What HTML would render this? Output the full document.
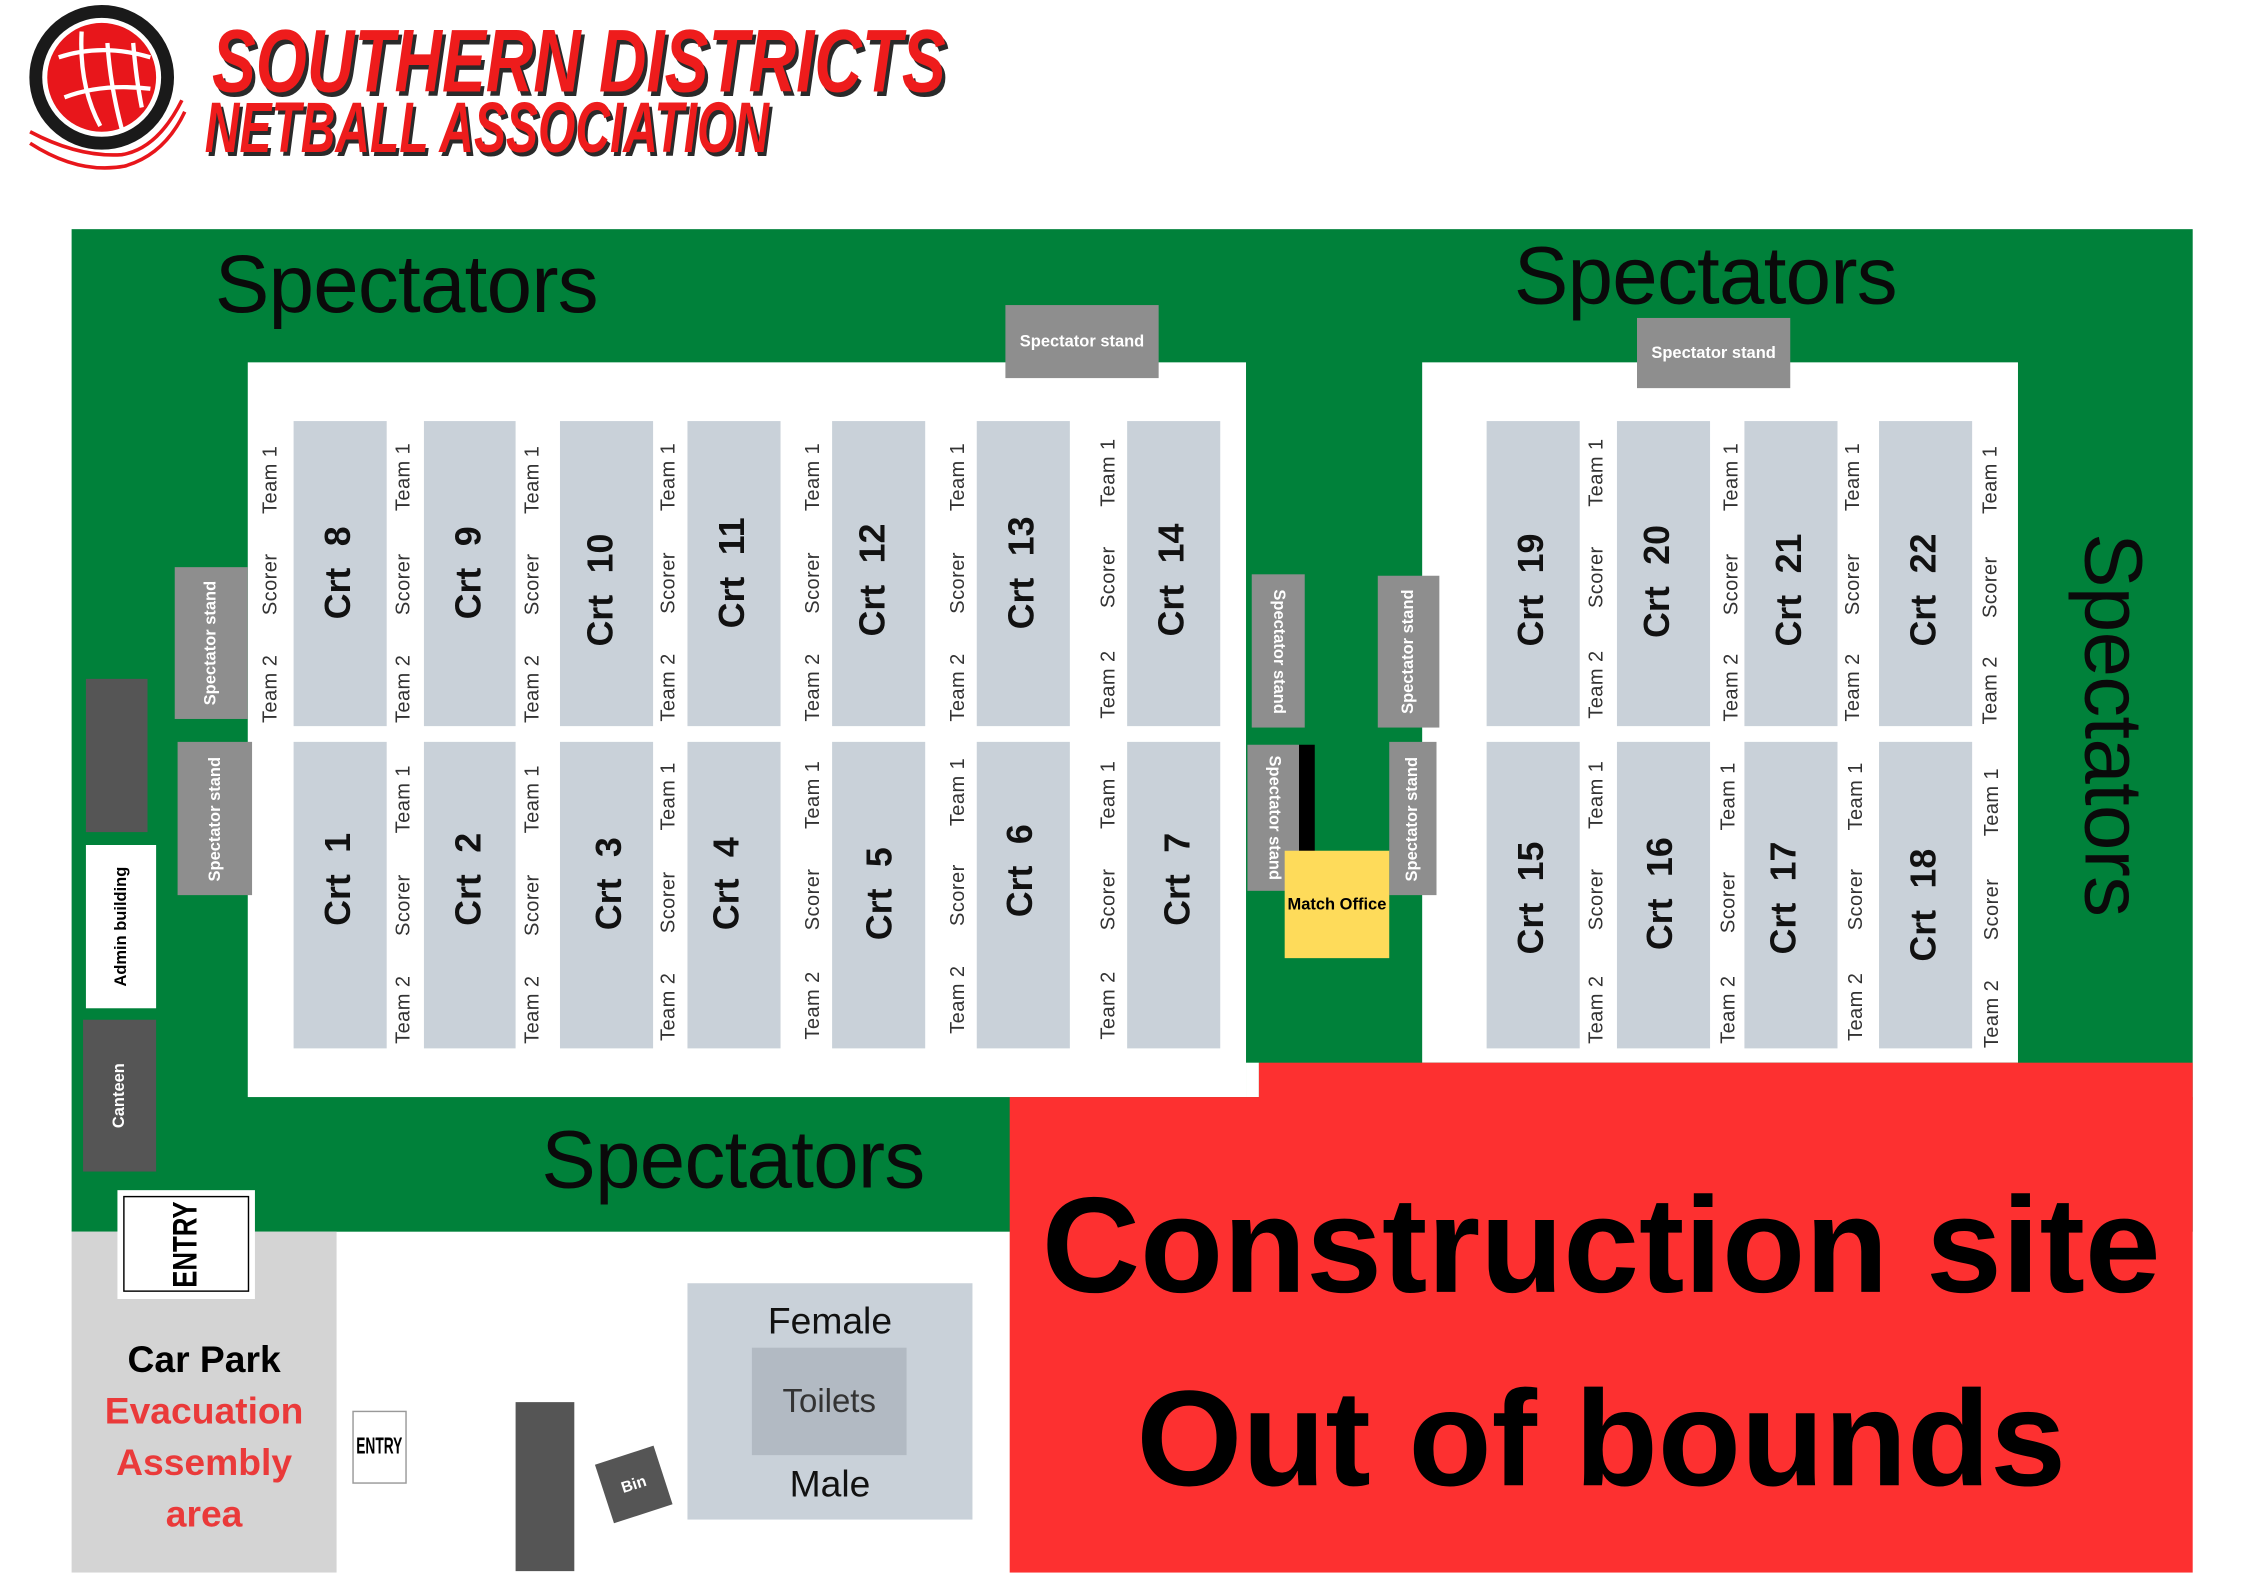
<!DOCTYPE html>
<html><head><meta charset="utf-8"><style>
html,body{margin:0;padding:0;background:#fff;}
body{width:2245px;height:1587px;overflow:hidden;position:relative;}
#s{position:absolute;left:0;top:0;width:1568px;height:1108px;transform:scale(1.4322);transform-origin:0 0;font-family:"Liberation Sans",sans-serif;}
.r{position:absolute;}
.g{background:#00813a;}
.w{background:#fff;}
.c{background:#c9d1d9;}
.st{background:#8e8e8e;color:#fff;font-weight:bold;font-size:11.5px;display:flex;align-items:center;justify-content:center;white-space:nowrap;}
.dk{background:#555;}
.v{position:absolute;transform:translate(-50%,-50%) rotate(-90deg);white-space:nowrap;}
.v2{position:absolute;transform:translate(-50%,-50%) rotate(90deg);white-space:nowrap;}
.t{font-size:14px;color:#333;letter-spacing:0.3px;}
.crt{font-size:25px;font-weight:bold;color:#111;word-spacing:8px;}
.sp{position:absolute;font-size:57px;color:#0a0a0a;white-space:nowrap;letter-spacing:-0.5px;}
.ti{position:absolute;font-weight:bold;font-style:italic;color:#ee1c1c;white-space:nowrap;transform-origin:0 0;text-shadow:3px 3px 0 #2a2a2a;}
</style></head><body><div id="s">

<svg class="r" style="left:15px;top:0" width="120" height="125" viewBox="0 0 120 125">
<circle cx="56" cy="54" r="46" fill="none" stroke="#1a1a1a" stroke-width="9"/>
<circle cx="56" cy="54" r="38" fill="#e8161b"/>
<path d="M26 40 Q56 30 90 40 M30 68 Q56 58 90 62 M42 22 Q40 60 55 88 M60 30 Q62 60 70 90 M78 30 Q80 55 84 75" stroke="#fff" stroke-width="3" fill="none"/>
<path d="M6 92 Q40 110 70 108 Q95 104 112 70 M6 100 Q40 122 72 116 Q100 108 114 78" stroke="#e8161b" stroke-width="2.5" fill="none"/>
</svg>
<div class="ti" style="left:148px;top:8px;font-size:62px;transform:scaleX(0.74);">SOUTHERN DISTRICTS</div>
<div class="ti" style="left:143px;top:60px;font-size:50px;transform:scaleX(0.67);">NETBALL ASSOCIATION</div>

<div class="r g" style="left:50px;top:160px;width:1481px;height:700px;"></div>
<div class="r w" style="left:173px;top:253px;width:697px;height:513px;"></div>
<div class="r w" style="left:870px;top:742px;width:9px;height:24px;"></div>
<div class="r w" style="left:993px;top:253px;width:416px;height:489px;"></div>
<div class="r" style="left:705px;top:766px;width:826px;height:332px;background:#fd3030;"></div>
<div class="r" style="left:879px;top:742px;width:652px;height:26px;background:#fd3030;"></div>
<div class="r" style="left:50px;top:860px;width:185px;height:238px;background:#d4d4d4;"></div>

<div class="sp" style="left:150px;top:166px;">Spectators</div>
<div class="sp" style="left:1057px;top:160px;">Spectators</div>
<div class="sp" style="left:378px;top:777px;">Spectators</div>
<div class="v2 sp" style="left:1475px;top:506px;">Spectators</div>

<div class="r st" style="left:702px;top:213px;width:107px;height:51px;">Spectator stand</div>
<div class="r st" style="left:1143px;top:222px;width:107px;height:49px;">Spectator stand</div>
<div class="r st" style="left:122px;top:396px;width:51px;height:106px;"><span style="transform:rotate(-90deg)">Spectator stand</span></div>
<div class="r st" style="left:124px;top:518px;width:52px;height:107px;"><span style="transform:rotate(-90deg)">Spectator stand</span></div>
<div class="r st" style="left:874px;top:401px;width:37px;height:107px;"><span style="transform:rotate(90deg)">Spectator stand</span></div>
<div class="r st" style="left:962px;top:402px;width:43px;height:106px;"><span style="transform:rotate(-90deg)">Spectator stand</span></div>
<div class="r st" style="left:871px;top:520px;width:36px;height:102px;"><span style="transform:rotate(90deg)">Spectator stand</span></div>
<div class="r st" style="left:970px;top:518px;width:33px;height:107px;"><span style="transform:rotate(-90deg)">Spectator stand</span></div>
<div class="r" style="left:907px;top:520px;width:11px;height:76px;background:#000;"></div>
<div class="r" style="left:897px;top:594px;width:73px;height:75px;background:#fedb5a;font-size:11.5px;font-weight:bold;display:flex;align-items:center;justify-content:center;white-space:nowrap;">Match Office</div>

<div class="r dk" style="left:60px;top:474px;width:43px;height:107px;"></div>
<div class="r w" style="left:60px;top:590px;width:49px;height:114px;display:flex;align-items:center;justify-content:center;"><span style="transform:rotate(-90deg);font-size:11.5px;font-weight:bold;white-space:nowrap;">Admin building</span></div>
<div class="r dk" style="left:58px;top:712px;width:51px;height:106px;display:flex;align-items:center;justify-content:center;"><span style="transform:rotate(-90deg);font-size:11.5px;font-weight:bold;color:#fff;white-space:nowrap;">Canteen</span></div>

<div class="r c" style="left:205px;top:294px;width:65px;height:213px;"></div>
<div class="r c" style="left:296px;top:294px;width:64px;height:213px;"></div>
<div class="r c" style="left:391px;top:294px;width:65px;height:213px;"></div>
<div class="r c" style="left:480px;top:294px;width:65px;height:213px;"></div>
<div class="r c" style="left:581px;top:294px;width:65px;height:213px;"></div>
<div class="r c" style="left:682px;top:294px;width:65px;height:213px;"></div>
<div class="r c" style="left:787px;top:294px;width:65px;height:213px;"></div>
<div class="r c" style="left:205px;top:518px;width:65px;height:214px;"></div>
<div class="r c" style="left:296px;top:518px;width:64px;height:214px;"></div>
<div class="r c" style="left:391px;top:518px;width:65px;height:214px;"></div>
<div class="r c" style="left:480px;top:518px;width:65px;height:214px;"></div>
<div class="r c" style="left:581px;top:518px;width:65px;height:214px;"></div>
<div class="r c" style="left:682px;top:518px;width:65px;height:214px;"></div>
<div class="r c" style="left:787px;top:518px;width:65px;height:214px;"></div>
<div class="r c" style="left:1038px;top:294px;width:65px;height:213px;"></div>
<div class="r c" style="left:1129px;top:294px;width:65px;height:213px;"></div>
<div class="r c" style="left:1218px;top:294px;width:65px;height:213px;"></div>
<div class="r c" style="left:1312px;top:294px;width:65px;height:213px;"></div>
<div class="r c" style="left:1038px;top:518px;width:65px;height:214px;"></div>
<div class="r c" style="left:1129px;top:518px;width:65px;height:214px;"></div>
<div class="r c" style="left:1218px;top:518px;width:65px;height:214px;"></div>
<div class="r c" style="left:1312px;top:518px;width:65px;height:214px;"></div>

<div class="v crt" style="left:237px;top:400px;">Crt 8</div>
<div class="v crt" style="left:328px;top:400px;">Crt 9</div>
<div class="v crt" style="left:420px;top:412px;">Crt 10</div>
<div class="v crt" style="left:512px;top:400px;">Crt 11</div>
<div class="v crt" style="left:610px;top:405px;">Crt 12</div>
<div class="v crt" style="left:714px;top:400px;">Crt 13</div>
<div class="v crt" style="left:819px;top:405px;">Crt 14</div>
<div class="v crt" style="left:237px;top:614px;">Crt 1</div>
<div class="v crt" style="left:328px;top:614px;">Crt 2</div>
<div class="v crt" style="left:426px;top:617px;">Crt 3</div>
<div class="v crt" style="left:508px;top:617px;">Crt 4</div>
<div class="v crt" style="left:615px;top:624px;">Crt 5</div>
<div class="v crt" style="left:713px;top:608px;">Crt 6</div>
<div class="v crt" style="left:823px;top:614px;">Crt 7</div>
<div class="v crt" style="left:1070px;top:412px;">Crt 19</div>
<div class="v crt" style="left:1158px;top:406px;">Crt 20</div>
<div class="v crt" style="left:1250px;top:412px;">Crt 21</div>
<div class="v crt" style="left:1344px;top:412px;">Crt 22</div>
<div class="v crt" style="left:1070px;top:627px;">Crt 15</div>
<div class="v crt" style="left:1160px;top:624px;">Crt 16</div>
<div class="v crt" style="left:1246px;top:627px;">Crt 17</div>
<div class="v crt" style="left:1344px;top:632px;">Crt 18</div>

<div class="v t" style="left:188px;top:335px;">Team 1</div><div class="v t" style="left:188px;top:408px;">Scorer</div><div class="v t" style="left:188px;top:481px;">Team 2</div>
<div class="v t" style="left:281px;top:333px;">Team 1</div><div class="v t" style="left:281px;top:408px;">Scorer</div><div class="v t" style="left:281px;top:481px;">Team 2</div>
<div class="v t" style="left:371px;top:335px;">Team 1</div><div class="v t" style="left:371px;top:408px;">Scorer</div><div class="v t" style="left:371px;top:481px;">Team 2</div>
<div class="v t" style="left:466px;top:333px;">Team 1</div><div class="v t" style="left:466px;top:407px;">Scorer</div><div class="v t" style="left:466px;top:480px;">Team 2</div>
<div class="v t" style="left:567px;top:333px;">Team 1</div><div class="v t" style="left:567px;top:407px;">Scorer</div><div class="v t" style="left:567px;top:480px;">Team 2</div>
<div class="v t" style="left:668px;top:333px;">Team 1</div><div class="v t" style="left:668px;top:407px;">Scorer</div><div class="v t" style="left:668px;top:480px;">Team 2</div>
<div class="v t" style="left:773px;top:330px;">Team 1</div><div class="v t" style="left:773px;top:403px;">Scorer</div><div class="v t" style="left:773px;top:478px;">Team 2</div>
<div class="v t" style="left:1114px;top:330px;">Team 1</div><div class="v t" style="left:1114px;top:403px;">Scorer</div><div class="v t" style="left:1114px;top:478px;">Team 2</div>
<div class="v t" style="left:1208px;top:333px;">Team 1</div><div class="v t" style="left:1208px;top:408px;">Scorer</div><div class="v t" style="left:1208px;top:480px;">Team 2</div>
<div class="v t" style="left:1293px;top:333px;">Team 1</div><div class="v t" style="left:1293px;top:408px;">Scorer</div><div class="v t" style="left:1293px;top:480px;">Team 2</div>
<div class="v t" style="left:1389px;top:335px;">Team 1</div><div class="v t" style="left:1389px;top:410px;">Scorer</div><div class="v t" style="left:1389px;top:482px;">Team 2</div>
<div class="v t" style="left:281px;top:558px;">Team 1</div><div class="v t" style="left:281px;top:632px;">Scorer</div><div class="v t" style="left:281px;top:705px;">Team 2</div>
<div class="v t" style="left:371px;top:558px;">Team 1</div><div class="v t" style="left:371px;top:632px;">Scorer</div><div class="v t" style="left:371px;top:705px;">Team 2</div>
<div class="v t" style="left:466px;top:556px;">Team 1</div><div class="v t" style="left:466px;top:630px;">Scorer</div><div class="v t" style="left:466px;top:703px;">Team 2</div>
<div class="v t" style="left:567px;top:555px;">Team 1</div><div class="v t" style="left:567px;top:628px;">Scorer</div><div class="v t" style="left:567px;top:702px;">Team 2</div>
<div class="v t" style="left:668px;top:553px;">Team 1</div><div class="v t" style="left:668px;top:625px;">Scorer</div><div class="v t" style="left:668px;top:698px;">Team 2</div>
<div class="v t" style="left:773px;top:555px;">Team 1</div><div class="v t" style="left:773px;top:628px;">Scorer</div><div class="v t" style="left:773px;top:702px;">Team 2</div>
<div class="v t" style="left:1114px;top:555px;">Team 1</div><div class="v t" style="left:1114px;top:628px;">Scorer</div><div class="v t" style="left:1114px;top:705px;">Team 2</div>
<div class="v t" style="left:1206px;top:556px;">Team 1</div><div class="v t" style="left:1206px;top:630px;">Scorer</div><div class="v t" style="left:1206px;top:705px;">Team 2</div>
<div class="v t" style="left:1295px;top:556px;">Team 1</div><div class="v t" style="left:1295px;top:628px;">Scorer</div><div class="v t" style="left:1295px;top:703px;">Team 2</div>
<div class="v t" style="left:1390px;top:560px;">Team 1</div><div class="v t" style="left:1390px;top:635px;">Scorer</div><div class="v t" style="left:1390px;top:708px;">Team 2</div>

<div class="r" style="left:705px;top:815px;width:826px;text-align:center;font-size:95px;font-weight:bold;color:#000;white-space:nowrap;line-height:110px;">Construction site</div>
<div class="r" style="left:705px;top:950px;width:826px;text-align:center;font-size:95px;font-weight:bold;color:#000;white-space:nowrap;line-height:110px;">Out of bounds</div>

<div class="r w" style="left:82px;top:831px;width:96px;height:76px;"></div>
<div class="r" style="left:86px;top:835px;width:86px;height:65px;border:1.5px solid #000;display:flex;align-items:center;justify-content:center;"><span style="transform:rotate(-90deg) scaleX(0.75);font-size:24px;font-weight:bold;white-space:nowrap;">ENTRY</span></div>
<div class="r" style="left:246px;top:985px;width:36px;height:49px;border:1px solid #999;background:#fff;display:flex;align-items:center;justify-content:center;"><span style="transform:scaleX(0.6);font-size:16px;font-weight:bold;">ENTRY</span></div>

<div class="r" style="left:50px;top:931px;width:185px;text-align:center;font-size:26px;font-weight:bold;line-height:36px;"><span>Car Park</span><br><span style="color:#ea3a3a">Evacuation<br>Assembly<br>area</span></div>

<div class="r dk" style="left:360px;top:979px;width:41px;height:118px;"></div>
<div class="r dk" style="left:421px;top:1015px;width:43px;height:43px;transform:rotate(-18deg);display:flex;align-items:center;justify-content:center;color:#fff;font-size:11px;font-weight:bold;">Bin</div>

<div class="r c" style="left:480px;top:896px;width:199px;height:165px;"></div>
<div class="r" style="left:525px;top:941px;width:108px;height:75px;background:#b2bac3;display:flex;align-items:center;justify-content:center;font-size:23px;color:#333;">Toilets</div>
<div class="r" style="left:480px;top:907px;width:199px;text-align:center;font-size:26px;color:#111;">Female</div>
<div class="r" style="left:480px;top:1021px;width:199px;text-align:center;font-size:26px;color:#111;">Male</div>

</div></body></html>
